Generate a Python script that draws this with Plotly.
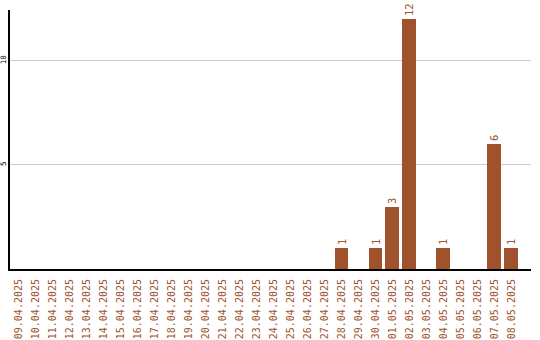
import plotly.graph_objects as go

dates = ["09.04.2025","10.04.2025","11.04.2025","12.04.2025","13.04.2025","14.04.2025",
         "15.04.2025","16.04.2025","17.04.2025","18.04.2025","19.04.2025","20.04.2025",
         "21.04.2025","22.04.2025","23.04.2025","24.04.2025","25.04.2025","26.04.2025",
         "27.04.2025","28.04.2025","29.04.2025","30.04.2025","01.05.2025","02.05.2025",
         "03.05.2025","04.05.2025","05.05.2025","06.05.2025","07.05.2025","08.05.2025"]
values = [0,0,0,0,0,0,0,0,0,0,0,0,0,0,0,0,0,0,0,1,0,1,3,12,0,1,0,0,6,1]
y_ticks = [5, 10]

color = "#A0522D"
font = "DejaVu Sans Mono"

fig = go.Figure(go.Bar(
    x=list(range(len(dates))), y=values,
    marker=dict(color=color, line=dict(width=0)),
    width=0.82,
    text=[str(v) if v else "" for v in values],
    textposition="outside", textangle=-90,
    textfont=dict(family=font, size=10.5, color=color),
    cliponaxis=False,
))
fig.update_layout(
    width=540, height=340,
    margin=dict(l=10, r=9, t=10, b=71),
    plot_bgcolor="white", paper_bgcolor="white",
    showlegend=False, bargap=0,
)
fig.update_xaxes(
    tickmode="array", tickvals=list(range(len(dates))), ticktext=dates,
    tickangle=-90, tickfont=dict(family=font, size=10, color=color),
    range=[-0.5, 30.15], showline=True, linecolor="black", linewidth=2,
    showgrid=False, ticks="", zeroline=False, automargin=False,
    ticklabelstandoff=4,
)
fig.update_yaxes(
    range=[0, 12.45], tickvals=y_ticks, ticktext=[str(t) for t in y_ticks],
    tickangle=-90, tickfont=dict(family=font, size=7.5, color="black"),
    showline=True, linecolor="black", linewidth=2,
    showgrid=True, gridcolor="#CCCCCC", gridwidth=1, zeroline=False, ticks="",
    automargin=False, ticklabelstandoff=-1,
)
fig.write_html("out.html")
